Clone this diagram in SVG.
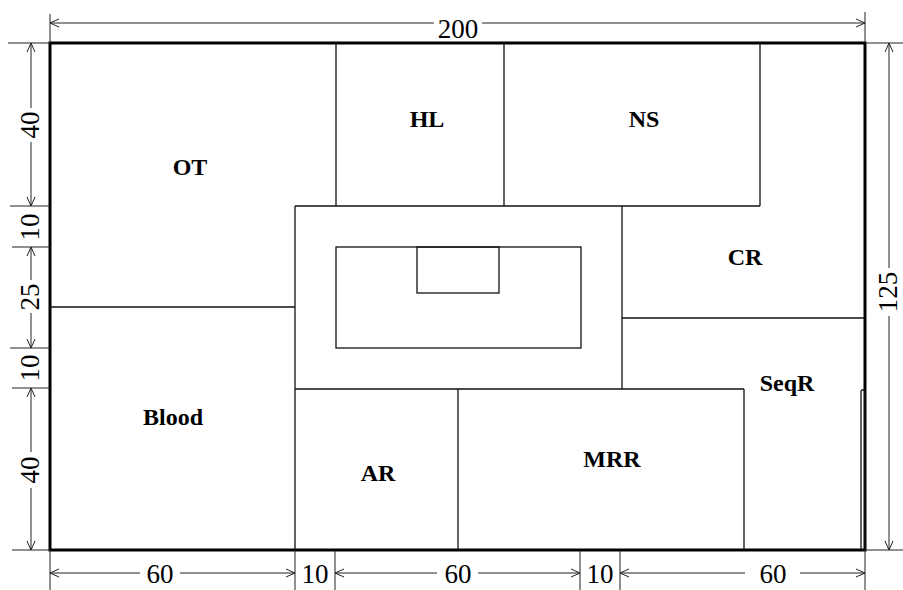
<svg xmlns="http://www.w3.org/2000/svg" width="903" height="590" viewBox="0 0 903 590">
<style>
.wall{fill:none;stroke:#111;stroke-width:1.3}
.outer{fill:none;stroke:#000;stroke-width:3}
.dim{fill:none;stroke:#222;stroke-width:1}
.lbl{font-family:"Liberation Serif","Times New Roman",serif;font-weight:bold;font-size:24px;fill:#000;text-anchor:middle}
.num{font-family:"Liberation Serif","Times New Roman",serif;font-size:27px;fill:#000;text-anchor:middle}
</style>
<defs>
<marker id="ar" viewBox="0 0 10 10" refX="10" refY="5" markerWidth="10" markerHeight="10" markerUnits="userSpaceOnUse" orient="auto-start-reverse">
<path d="M1,1 L10,5 L1,9" fill="none" stroke="#222" stroke-width="1"/>
</marker>
</defs>
<rect x="0" y="0" width="903" height="590" fill="#fff"/>

<g id="walls">
<rect class="outer" x="50" y="43" width="815" height="507"/>
<path class="wall" d="M336,43 V206 M504,43 V206 M760,43 V206 M295,206 H760 M295,206 V550 M622,206 V389 M295,389 H744 M50,307 H295 M622,318 H865 M458,389 V550 M744,389 V550"/>
<rect class="wall" x="336" y="247" width="245" height="101"/>
<rect class="wall" x="417" y="247" width="82" height="46"/>
<rect class="wall" x="861" y="390" width="4" height="160" rx="1.5" stroke-width="1"/>
</g>

<g id="OT"><text class="lbl" x="190" y="175">OT</text></g>
<g id="HL"><text class="lbl" x="427" y="127">HL</text></g>
<g id="NS"><text class="lbl" x="644" y="127">NS</text></g>
<g id="CR"><text class="lbl" x="745" y="265">CR</text></g>
<g id="SeqR"><text class="lbl" x="787" y="391">SeqR</text></g>
<g id="Blood"><text class="lbl" x="173" y="425">Blood</text></g>
<g id="AR"><text class="lbl" x="378" y="481">AR</text></g>
<g id="MRR"><text class="lbl" x="612" y="467">MRR</text></g>

<g id="dimensions">
<!-- top -->
<path class="dim" d="M50,14 V43 M865,12 V43 M8,43 H50 M865,43 H903"/>
<line class="dim" x1="434" y1="23" x2="50" y2="23" marker-end="url(#ar)"/>
<line class="dim" x1="482" y1="23" x2="865" y2="23" marker-end="url(#ar)"/>
<text class="num" x="458" y="38">200</text>
<!-- right -->
<path class="dim" d="M865,550 H903"/>
<line class="dim" x1="889" y1="268" x2="889" y2="43" marker-end="url(#ar)"/>
<line class="dim" x1="889" y1="316" x2="889" y2="550" marker-end="url(#ar)"/>
<text class="num" transform="translate(897,292) rotate(-90)" x="0" y="0">125</text>
<!-- left -->
<path class="dim" d="M10,206 H50 M12,247 H50 M10,348 H50 M12,388 H50 M12,550 H50"/>
<line class="dim" x1="31" y1="108" x2="31" y2="43" marker-end="url(#ar)"/>
<line class="dim" x1="31" y1="142" x2="31" y2="206" marker-end="url(#ar)"/>
<line class="dim" x1="31" y1="280" x2="31" y2="247" marker-end="url(#ar)"/>
<line class="dim" x1="31" y1="313" x2="31" y2="348" marker-end="url(#ar)"/>
<line class="dim" x1="31" y1="452" x2="31" y2="388" marker-end="url(#ar)"/>
<line class="dim" x1="31" y1="488" x2="31" y2="550" marker-end="url(#ar)"/>
<text class="num" transform="translate(39,125) rotate(-90)" x="0" y="0">40</text>
<text class="num" transform="translate(39,227) rotate(-90)" x="0" y="0">10</text>
<text class="num" transform="translate(39,297) rotate(-90)" x="0" y="0">25</text>
<text class="num" transform="translate(39,368) rotate(-90)" x="0" y="0">10</text>
<text class="num" transform="translate(39,470) rotate(-90)" x="0" y="0">40</text>
<!-- bottom -->
<path class="dim" d="M50,550 V590 M295,550 V590 M335,550 V590 M580,550 V590 M620,550 V590 M865,550 V590"/>
<line class="dim" x1="140" y1="573" x2="50" y2="573" marker-end="url(#ar)"/>
<line class="dim" x1="180" y1="573" x2="295" y2="573" marker-end="url(#ar)"/>
<line class="dim" x1="437" y1="573" x2="335" y2="573" marker-end="url(#ar)"/>
<line class="dim" x1="478" y1="573" x2="580" y2="573" marker-end="url(#ar)"/>
<line class="dim" x1="745" y1="573" x2="620" y2="573" marker-end="url(#ar)"/>
<line class="dim" x1="800" y1="573" x2="865" y2="573" marker-end="url(#ar)"/>
<text class="num" x="160" y="583">60</text>
<text class="num" x="315" y="583">10</text>
<text class="num" x="458" y="583">60</text>
<text class="num" x="600" y="583">10</text>
<text class="num" x="773" y="583">60</text>
</g>
</svg>
